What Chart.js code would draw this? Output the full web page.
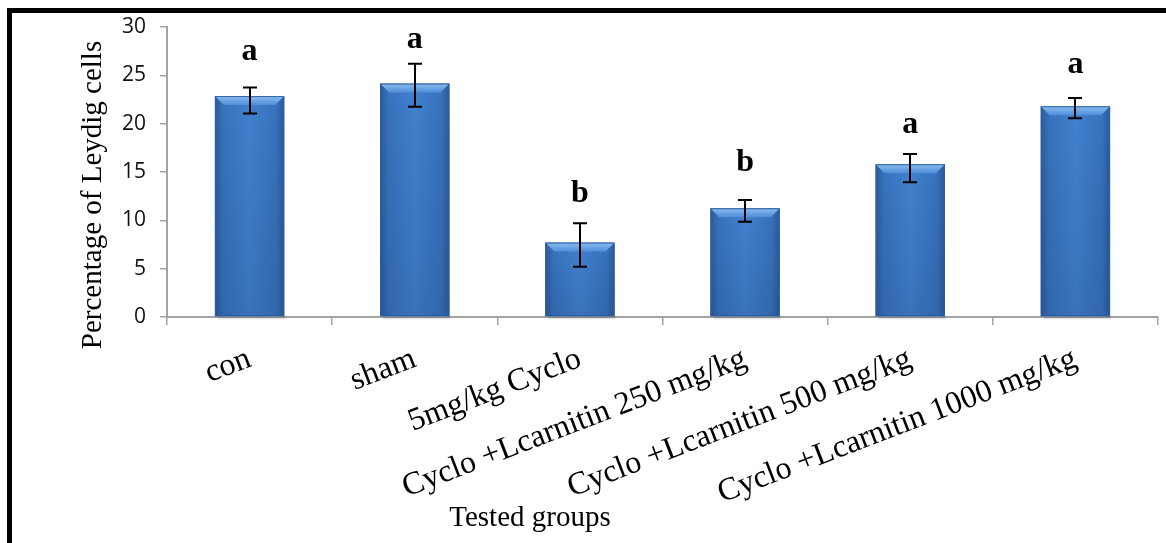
<!DOCTYPE html>
<html>
<head>
<meta charset="utf-8">
<script src="https://cdn.jsdelivr.net/npm/chart.js@4"></script>
<style>
  html, body { margin: 0; padding: 0; background: #fff; overflow: hidden; }
  #frame {
    position: absolute; left: 7px; top: 8px;
    width: 1300px; height: 700px;
    border: 5px solid #000;
  }
  #chart { position: absolute; left: 0; top: 0; }
</style>
</head>
<body>
<div id="frame"></div>
<canvas id="chart" width="1166" height="543"></canvas>
<script>
// groups on the x axis
const groups = [
    "con", "sham", "5mg/kg Cyclo",
    "Cyclo +Lcarnitin 250 mg/kg",
    "Cyclo +Lcarnitin 500 mg/kg",
    "Cyclo +Lcarnitin 1000 mg/kg"
];

// percentage of Leydig cells (bar heights)
const leydigPct = [22.85, 24.15, 7.7, 11.25, 15.8, 21.8];

// error bar extents
const errPlus  = [0.9, 2.05, 2.0, 0.85, 1.05, 0.85];
const errMinus = [1.8, 2.4, 2.5, 1.4, 1.85, 1.25];

// significance letters and the value level they sit at
const sigLetters = ["a", "a", "b", "b", "a", "a"];
const letterLevel = [27.4, 28.7, 12.7, 16.0, 19.9, 26.1];

// y axis ticks
const yTicks = [0, 5, 10, 15, 20, 25, 30];

const axisGrey = '#a3a3a3';

// bar fill: horizontal shading + light bevel on the top edge
const barShading = {
    id: 'barShading',
    afterDatasetsDraw(chart) {
        const ctx = chart.ctx;
        chart.getDatasetMeta(0).data.forEach(bar => {
            const { x, y, base, width } = bar.getProps(['x', 'y', 'base', 'width'], true);
            const left = x - width / 2, right = x + width / 2;
            ctx.save();
            // soft shadow under the bar
            ctx.fillStyle = 'rgba(0,0,0,0.12)';
            ctx.fillRect(left + 3, base, width - 2, 3);
            const g = ctx.createLinearGradient(left, 0, right, 0);
            g.addColorStop(0, '#2b5a99');
            g.addColorStop(0.12, '#3872bb');
            g.addColorStop(0.5, '#4181cf');
            g.addColorStop(0.88, '#3872bb');
            g.addColorStop(1, '#2b5a99');
            ctx.fillStyle = g;
            ctx.fillRect(left, y, width, base - y);
            // darker bottom part
            const v = ctx.createLinearGradient(0, y, 0, base);
            v.addColorStop(0, 'rgba(20,50,100,0)');
            v.addColorStop(1, 'rgba(20,50,100,0.18)');
            ctx.fillStyle = v;
            ctx.fillRect(left, y, width, base - y);
            // bevel on top
            const bev = 9;
            const tg = ctx.createLinearGradient(0, y, 0, y + bev);
            tg.addColorStop(0, '#8dbdf0');
            tg.addColorStop(1, '#4d8dd9');
            ctx.fillStyle = tg;
            ctx.beginPath();
            ctx.moveTo(left, y);
            ctx.lineTo(right, y);
            ctx.lineTo(right - bev, y + bev);
            ctx.lineTo(left + bev, y + bev);
            ctx.closePath();
            ctx.fill();
            ctx.strokeStyle = '#2d5e9e';
            ctx.lineWidth = 1;
            ctx.strokeRect(left + 0.5, y + 0.5, width - 1, base - y - 1);
            ctx.restore();
        });
    }
};

// error bars and letters
const annotations = {
    id: 'annotations',
    afterDatasetsDraw(chart) {
        const ctx = chart.ctx;
        const yScale = chart.scales.y;
        const xScale = chart.scales.x;
        ctx.save();
        ctx.strokeStyle = '#000';
        ctx.lineWidth = 2;
        leydigPct.forEach((v, i) => {
            const x = Math.round(xScale.getPixelForValue(i));
            const top = yScale.getPixelForValue(v + errPlus[i]);
            const bot = yScale.getPixelForValue(v - errMinus[i]);
            ctx.beginPath();
            ctx.moveTo(x, top); ctx.lineTo(x, bot);
            ctx.moveTo(x - 7, top); ctx.lineTo(x + 7, top);
            ctx.moveTo(x - 7, bot); ctx.lineTo(x + 7, bot);
            ctx.stroke();
        });
        ctx.fillStyle = '#000';
        ctx.font = 'bold 32px "Liberation Serif"';
        ctx.textAlign = 'center';
        ctx.textBaseline = 'middle';
        sigLetters.forEach((t, i) => {
            ctx.fillText(t, xScale.getPixelForValue(i), yScale.getPixelForValue(letterLevel[i]));
        });
        ctx.restore();
    }
};

// axis titles (placed off-centre, as in the original)
const axisTitles = {
    id: 'axisTitles',
    afterDraw(chart) {
        const ctx = chart.ctx;
        ctx.save();
        ctx.fillStyle = '#000';
        ctx.font = '29px "Liberation Serif"';
        ctx.textAlign = 'center';
        ctx.textBaseline = 'alphabetic';
        ctx.fillText('Tested groups', 530, 526);
        ctx.translate(101, 195);
        ctx.rotate(-Math.PI / 2);
        ctx.fillText('Percentage of Leydig cells', 0, 0);
        ctx.restore();
    }
};

new Chart(document.getElementById('chart'), {
    type: 'bar',
    data: {
        labels: groups,
        datasets: [{
            data: leydigPct,
            backgroundColor: 'rgba(0,0,0,0)',
            borderWidth: 0,
            barPercentage: 0.42,
            categoryPercentage: 1
        }]
    },
    options: {
        responsive: false,
        animation: false,
        layout: { padding: { top: 27, right: 8, left: 0, bottom: 0 } },
        plugins: {
            legend: { display: false },
            tooltip: { enabled: false }
        },
        scales: {
            x: {
                offset: true,
                grid: {
                    offset: true,
                    drawOnChartArea: false,
                    tickLength: 8,
                    color: axisGrey,
                    lineWidth: 1.5
                },
                border: { color: axisGrey, width: 2 },
                ticks: {
                    autoSkip: false,
                    minRotation: 21,
                    maxRotation: 21,
                    padding: 15,
                    color: '#000',
                    font: { family: 'Liberation Serif', size: 32 }
                },
                afterFit(scale) { scale.height = 226; }
            },
            y: {
                min: 0,
                max: 30,
                afterBuildTicks(scale) { scale.ticks = yTicks.map(v => ({ value: v })); },
                grid: {
                    drawOnChartArea: false,
                    tickLength: 7,
                    color: axisGrey,
                    lineWidth: 1.5
                },
                border: { color: axisGrey, width: 2 },
                ticks: {
                    padding: 14,
                    color: '#111',
                    font: { family: 'Open Sans', size: 21 }
                },
                afterFit(scale) { scale.width = 167; }
            }
        }
    },
    plugins: [barShading, annotations, axisTitles]
});
</script>
</body>
</html>
